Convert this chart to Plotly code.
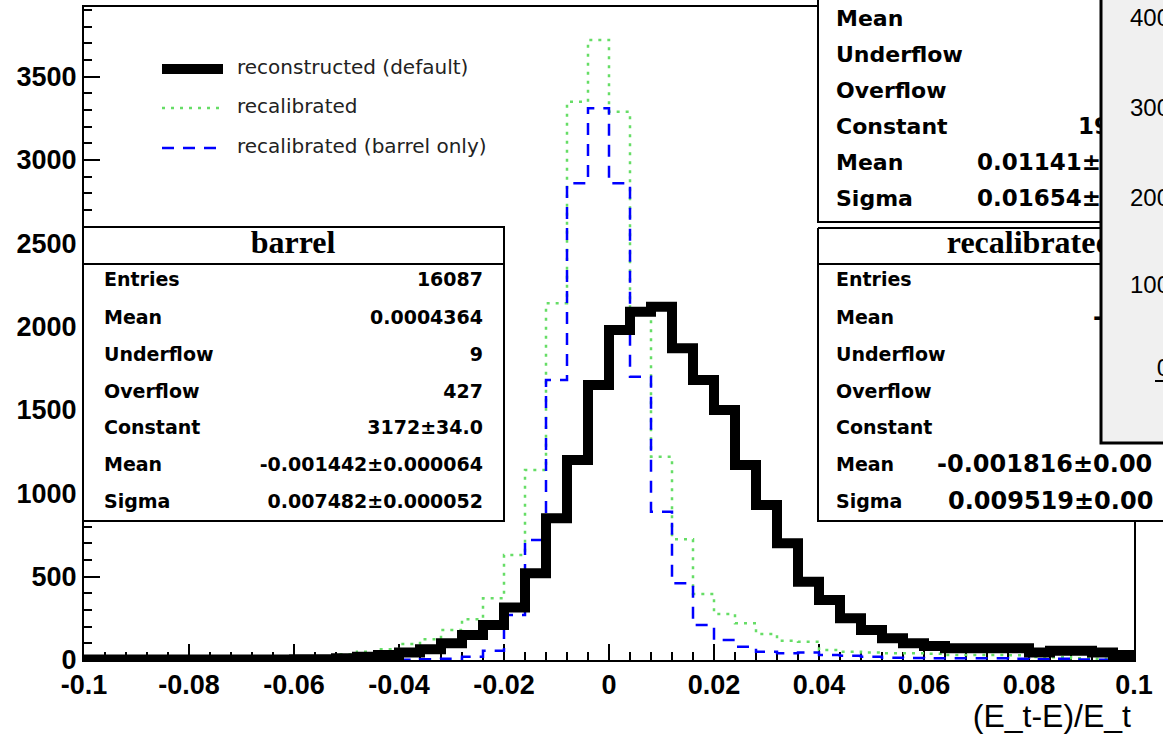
import numpy as np
import plotly.graph_objects as go

# ---------------- data ----------------
x_low, x_high, n_bins = -0.1, 0.1, 50
reconstructed_default = [3, 3, 3, 3, 3, 3, 3, 3, 3, 3, 4, 5, 10, 20, 30, 45, 65, 100, 150, 210,
                         315, 520, 850, 1200, 1650, 1980, 2090, 2120, 1870, 1680, 1500, 1170, 930, 700, 470,
                         360, 250, 180, 130, 100, 84, 70, 70, 70, 70, 45, 55, 55, 45, 30]
recalibrated = [2, 2, 2, 2, 2, 2, 2, 2, 2, 5, 10, 20, 35, 50, 64, 96, 125, 180, 245, 370,
                630, 1140, 2140, 3350, 3720, 3290, 2080, 1220, 724, 396, 276, 220, 156, 116, 110,
                60, 50, 45, 40, 40, 38, 30, 30, 30, 28, 18, 16, 10, 8, 6]
recalibrated_barrel = [0, 0, 0, 0, 0, 0, 0, 0, 0, 0, 0, 0, 0, 0, 0, 2, 5, 8, 20, 56,
                       270, 720, 1680, 2860, 3310, 2860, 1700, 890, 460, 210, 120, 80, 50, 40, 45,
                       30, 25, 20, 14, 12, 10, 10, 10, 10, 8, 4, 8, 3, 2, 2]
series_names = ["reconstructed (default)", "recalibrated", "recalibrated (barrel only)"]

x_tick_vals = [-0.1, -0.08, -0.06, -0.04, -0.02, 0, 0.02, 0.04, 0.06, 0.08, 0.1]
x_tick_labels = ["-0.1", "-0.08", "-0.06", "-0.04", "-0.02", "0", "0.02", "0.04", "0.06", "0.08", "0.1"]
y_tick_vals = [0, 500, 1000, 1500, 2000, 2500, 3000, 3500]
y_tick_labels = ["0", "500", "1000", "1500", "2000", "2500", "3000", "3500"]
x_title = "(E_t-E)/E_t"

barrel_title = "barrel"
barrel_names = ["Entries", "Mean", "Underflow", "Overflow", "Constant", "Mean", "Sigma"]
barrel_values = ["16087", "0.0004364", "9", "427", "3172±34.0", "-0.001442±0.000064", "0.007482±0.000052"]

recal_title = "recalibrated"
recal_names = ["Entries", "Mean", "Underflow", "Overflow", "Constant", "Mean", "Sigma"]
recal_fit_values = ["-0.001816±0.00", "0.009519±0.00"]

default_names = ["Mean", "Underflow", "Overflow", "Constant", "Mean", "Sigma"]
default_values = ["19", "0.01141±", "0.01654±"]

inset_labels = ["400", "300", "200", "100", "0"]

# ---------------- figure ----------------
W, H = 1163, 735
edges = np.round(np.linspace(x_low, x_high, n_bins + 1), 4)

fig = go.Figure()


def step(vals, name, color, width, dash):
    fig.add_trace(go.Scatter(
        x=edges, y=list(vals) + [vals[-1]], mode="lines", line_shape="hv", name=name,
        line=dict(color=color, width=width, dash=dash), showlegend=False, hoverinfo="skip"))


step(recalibrated, series_names[1], "#66dd66", 2.5, "3px,6px")
step(recalibrated_barrel, series_names[2], "#0000ff", 2.5, "12px,9px")
step(reconstructed_default, series_names[0], "black", 10, "solid")

# ---- overlay (pixel coordinates) helpers ----
OV = dict(xaxis="x2", yaxis="y2", hoverinfo="skip", showlegend=False)


def rect(x0, y0, x1, y1, fill="white", lw=2):
    fig.add_trace(go.Scatter(x=[x0, x1, x1, x0, x0], y=[y0, y0, y1, y1, y0], mode="lines",
                             fill="toself", fillcolor=fill, line=dict(color="black", width=lw), **OV))


def seg(xs, ys, color="black", lw=2, dash="solid"):
    fig.add_trace(go.Scatter(x=xs, y=ys, mode="lines", line=dict(color=color, width=lw, dash=dash), **OV))


def text(x, y, s, pos, size, family="DejaVu Sans", weight="bold", color="black"):
    fig.add_trace(go.Scatter(x=[x], y=[y], text=[s], mode="text", textposition=pos,
                             textfont=dict(family=family, size=size, weight=weight, color=color), **OV))


rows_y = [281, 319, 356, 393, 429, 466, 503]

# barrel box
rect(83, 227, 504, 521)
seg([83, 504], [264, 264])
text(293, 245, barrel_title, "middle center", 32, family="Liberation Serif")
for n, v, y in zip(barrel_names, barrel_values, rows_y):
    text(104, y, n, "middle right", 19)
    text(483, y, v, "middle left", 19)

# default (reconstructed) box, top right
rect(818, -20, 1150, 222)
for n, y in zip(default_names, [20, 56, 92, 128, 164, 200]):
    text(836, y, n, "middle right", 22)
for v, x, y in zip(default_values, [1078, 977, 977], [128, 164, 200]):
    text(x, y, v, "middle right", 23)

# recalibrated box
rect(818, 228, 1260, 521)
seg([818, 1260], [264, 264])
text(1030, 245, recal_title, "middle center", 32, family="Liberation Serif")
for n, y in zip(recal_names, rows_y):
    text(836, y, n, "middle right", 19)
text(1093, 319, "-0.00", "middle right", 24)
for v, y in zip(recal_fit_values, rows_y[5:]):
    text(937 if v.startswith("-") else 948, y, v, "middle right", 24)

# grey inset window on the right
rect(1101, -20, 1200, 443, fill="#f0f0f0", lw=3)
for lab, y in zip(inset_labels, [20, 110, 200, 287, 370]):
    text(1170, y, lab, "middle left", 24, family="Liberation Sans", weight="normal")
seg([1155, 1163], [381, 381], lw=2)

# legend
seg([162, 223], [69, 69], color="black", lw=10)
seg([162, 225], [108, 108], color="#66dd66", lw=2.5, dash="3px,6px")
seg([162, 220], [148, 148], color="#0000ff", lw=2.5, dash="12px,9px")
for s, y in zip(series_names, [69, 108, 148]):
    text(237, y, s, "middle right", 20, weight="normal", color="#222222")

# x-axis title
text(1131, 719, x_title, "middle left", 32, family="Liberation Sans", weight="normal")

tickfont = dict(family="Liberation Sans", size=27, weight="bold", color="black")
fig.update_layout(
    template="none",
    width=W, height=H, margin=dict(l=0, r=0, t=0, b=0, pad=0, autoexpand=False),
    paper_bgcolor="white", plot_bgcolor="rgba(0,0,0,0)",
    xaxis=dict(domain=[84 / W, 1134 / W], range=[x_low, x_high], tickmode="array", automargin=False,
               tickvals=x_tick_vals, ticktext=x_tick_labels, ticks="inside", ticklen=16, tickwidth=2,
               tickcolor="black", minor=dict(tickmode="linear", tick0=x_low, dtick=0.004, ticks="inside",
                                             ticklen=8, tickwidth=2, tickcolor="black"),
               showline=True, linewidth=2, linecolor="black", mirror=True, showgrid=False,
               zeroline=False, layer="below traces", tickfont=tickfont, fixedrange=True),
    yaxis=dict(domain=[75 / H, 728 / H], range=[0, 3918], tickmode="array", automargin=False,
               tickvals=y_tick_vals, ticktext=y_tick_labels, ticks="inside", ticklen=16, tickwidth=2,
               tickcolor="black", minor=dict(tickmode="linear", tick0=0, dtick=100, ticks="inside",
                                             ticklen=8, tickwidth=2, tickcolor="black"),
               showline=True, linewidth=2, linecolor="black", mirror=True, showgrid=False,
               zeroline=False, layer="below traces", tickfont=tickfont, fixedrange=True),
    xaxis2=dict(domain=[0, 1], range=[0, W], visible=False, anchor="y2", fixedrange=True, automargin=False),
    yaxis2=dict(domain=[0, 1], range=[H, 0], visible=False, anchor="x2", fixedrange=True, automargin=False),
    showlegend=False,
)

fig.write_html("out.html")
